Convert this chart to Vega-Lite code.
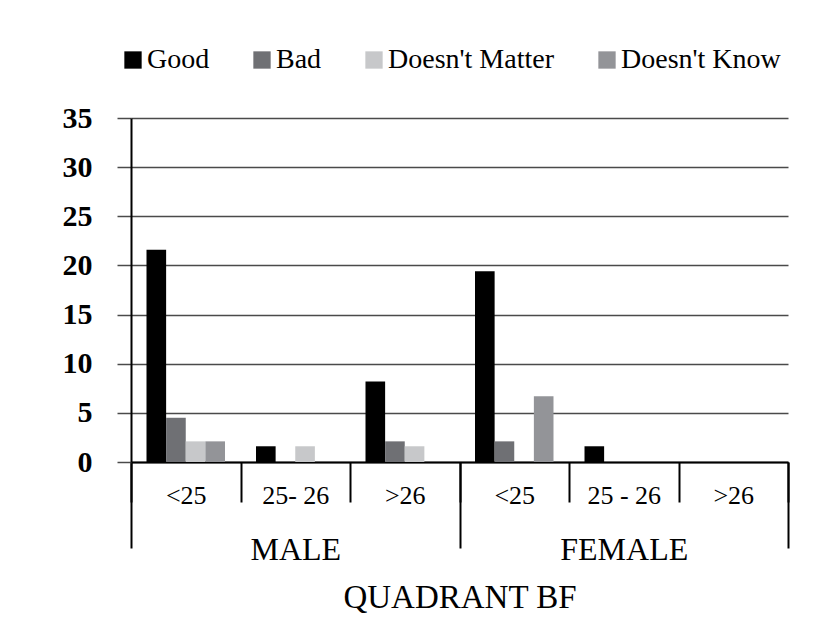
{
  "$schema": "https://vega.github.io/schema/vega-lite/v6.json",
  "width": 657,
  "height": 344,
  "autosize": {"type": "none"},
  "padding": {"left": 131, "top": 118, "right": 32, "bottom": 166},
  "background": "white",
  "config": {
    "font": "Liberation Serif",
    "view": {"stroke": null},
    "axis": {"labelFont": "Liberation Serif", "titleFont": "Liberation Serif", "labelColor": "black", "titleColor": "black"},
    "legend": {"labelFont": "Liberation Serif"}
  },
  "data": {
    "values": [
      {"gender": "MALE", "key": "MALE <25", "response": "Good", "value": 21.6},
      {"gender": "MALE", "key": "MALE <25", "response": "Bad", "value": 4.5},
      {"gender": "MALE", "key": "MALE <25", "response": "Doesn't Matter", "value": 2.1},
      {"gender": "MALE", "key": "MALE <25", "response": "Doesn't Know", "value": 2.1},
      {"gender": "MALE", "key": "MALE 25- 26", "response": "Good", "value": 1.6},
      {"gender": "MALE", "key": "MALE 25- 26", "response": "Doesn't Matter", "value": 1.6},
      {"gender": "MALE", "key": "MALE >26", "response": "Good", "value": 8.2},
      {"gender": "MALE", "key": "MALE >26", "response": "Bad", "value": 2.1},
      {"gender": "MALE", "key": "MALE >26", "response": "Doesn't Matter", "value": 1.6},
      {"gender": "FEMALE", "key": "FEMALE <25", "response": "Good", "value": 19.4},
      {"gender": "FEMALE", "key": "FEMALE <25", "response": "Bad", "value": 2.1},
      {"gender": "FEMALE", "key": "FEMALE <25", "response": "Doesn't Know", "value": 6.7},
      {"gender": "FEMALE", "key": "FEMALE 25 - 26", "response": "Good", "value": 1.6}
    ]
  },
  "layer": [
    {
      "mark": {"type": "bar"},
      "encoding": {
        "x": {
          "field": "key",
          "type": "nominal",
          "sort": null,
          "scale": {"domain": ["MALE <25", "MALE 25- 26", "MALE >26", "FEMALE <25", "FEMALE 25 - 26", "FEMALE >26"], "paddingInner": 0, "paddingOuter": 0},
          "axis": {
            "orient": "bottom",
            "title": null,
            "labelAngle": 0,
            "labelExpr": "replace(datum.label, /^(MALE|FEMALE) /, '')",
            "labelFontSize": 26,
            "labelPadding": -20,
            "tickBand": "extent",
            "tickSize": 40,
            "tickColor": "black",
            "tickWidth": 2,
            "domainColor": "black",
            "domainWidth": 2,
            "grid": false
          }
        },
        "xOffset": {
          "field": "response",
          "type": "nominal",
          "scale": {"domain": ["Good", "Bad", "Doesn't Matter", "Doesn't Know"], "paddingInner": 0, "paddingOuter": 0.79}
        },
        "y": {
          "field": "value",
          "type": "quantitative",
          "scale": {"domain": [0, 35]},
          "axis": {
            "title": null,
            "values": [0, 5, 10, 15, 20, 25, 30, 35],
            "labelFontSize": 30,
            "labelFontWeight": "bold",
            "labelPadding": 25,
            "tickSize": 14,
            "tickColor": "#4a4a4a",
            "tickWidth": 1.5,
            "grid": true,
            "gridColor": "#4a4a4a",
            "gridWidth": 1.5,
            "domainColor": "black",
            "domainWidth": 2
          }
        },
        "color": {
          "field": "response",
          "type": "nominal",
          "scale": {"domain": ["Good", "Bad", "Doesn't Matter", "Doesn't Know"], "range": ["#000000", "#6f7074", "#c7c8ca", "#939498"]},
          "legend": {
            "title": null,
            "orient": "none",
            "direction": "horizontal",
            "legendX": -12,
            "legendY": -72,
            "symbolType": "square",
            "symbolSize": 300,
            "symbolStrokeWidth": 0,
            "symbolOpacity": 1,
            "labelFontSize": 28,
            "labelColor": "black",
            "labelLimit": 0,
            "labelOffset": 0,
            "columnPadding": 38,
            "padding": 0
          }
        }
      }
    },
    {
      "mark": {"type": "point", "opacity": 0},
      "encoding": {
        "x": {
          "field": "gender",
          "type": "nominal",
          "sort": null,
          "scale": {"type": "band", "domain": ["MALE", "FEMALE"], "paddingInner": 0, "paddingOuter": 0},
          "axis": {
            "orient": "bottom",
            "title": "QUADRANT BF",
            "titleFontSize": 33,
            "titleFontWeight": "normal",
            "titlePadding": 16,
            "labelAngle": 0,
            "labelFontSize": 32,
            "labelPadding": -14,
            "tickBand": "extent",
            "tickSize": 86,
            "tickColor": "black",
            "tickWidth": 2,
            "domain": false,
            "grid": false
          }
        }
      }
    }
  ],
  "resolve": {"scale": {"x": "independent"}, "axis": {"x": "independent"}}
}
